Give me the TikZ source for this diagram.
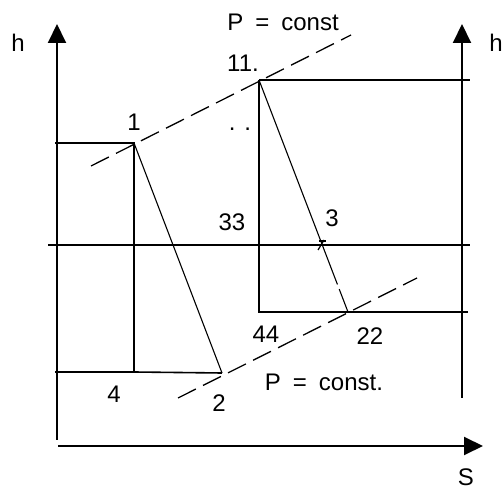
\documentclass[tikz,border=0pt]{standalone}
\usepackage{fontspec}
\setmainfont{Liberation Sans}
\usetikzlibrary{arrows.meta,calc}
\begin{document}
\begin{tikzpicture}[x=1pt,y=-1pt,
  axis/.style={line width=2pt,-{Triangle[width=18pt,length=19pt]}},
  thick line/.style={line width=1.6pt},
  slant/.style={line width=1.1pt},
  pline/.style={line width=1.3pt,dash pattern=on 20pt off 8pt},
  lbl/.style={inner sep=0pt,font=\fontsize{24}{28}\selectfont}]
\useasboundingbox (0,0) rectangle (504,494);
% coordinates
\coordinate (L0) at (57,440);  \coordinate (Ltop) at (57,24);
\coordinate (R0) at (462,398); \coordinate (Rtop) at (462,24);
\coordinate (B0) at (58,446);  \coordinate (Bend) at (483,446);
\coordinate (p1) at (134,143); \coordinate (a1) at (55,143);
\coordinate (p4) at (134,372); \coordinate (a4) at (55,372);
\coordinate (p2) at (222,373);
\coordinate (p11) at (259,80); \coordinate (e11) at (470,80);
\coordinate (p44) at (259,312); \coordinate (p22) at (348,312); \coordinate (e22) at (468,312);
\coordinate (m0) at (48,245); \coordinate (m1) at (470,245);
\coordinate (t0) at (91,166); \coordinate (t1) at (351,35);
\coordinate (b0) at (178,398); \coordinate (b1) at (417,278);
% axes
\draw[axis] (L0) -- (Ltop);
\draw[axis] (R0) -- (Rtop);
\draw[axis] (B0) -- (Bend);
% cycle 1
\draw[thick line] (a1) -- (p1) -- (p4);
\draw[thick line] (a4) -- (p4) -- (p2);
\draw[slant] (p1) -- (p2);
% cycle 2
\draw[thick line] (p11) -- (e11);
\draw[thick line] (p11) -- (p44) -- (p22) -- (e22);
\draw[slant, dash pattern=on 219pt off 5pt on 40pt] (p11) -- (p22);
\draw[thick line] (m0) -- (m1);
% mark at 3
\draw[line width=1.2pt] (318,250) -- (324,240);
\draw[line width=1.2pt] (319,241) -- (326,241);
% isobars
\draw[pline] (t0) -- (t1);
\draw[pline] (b0) -- (b1);
% labels
\node[lbl] (hL) at (18,43) {h};
\node[lbl, anchor=east] (hR) at (503,43) {h};
\node[lbl] (S) at (466,477) {S};
\node[lbl] (Pc) at (283,22) {\spaceskip=12pt P = const};
\node[lbl] (n11) at (243,63) {11.};
\node[lbl] (n1) at (134,122) {1};
\node[lbl, anchor=base] (dots) at (240,131) {. .};
\node[lbl] (n33) at (232,222) {33};
\node[lbl] (n3) at (332,218) {3};
\node[lbl] (n44) at (266,334) {44};
\node[lbl] (n22) at (370,336) {22};
\node[lbl] (n4) at (114,394) {4};
\node[lbl] (n2) at (219,403) {2};
\node[lbl] (Pc2) at (324,382) {\spaceskip=12pt P = const.};
\end{tikzpicture}
\end{document}
